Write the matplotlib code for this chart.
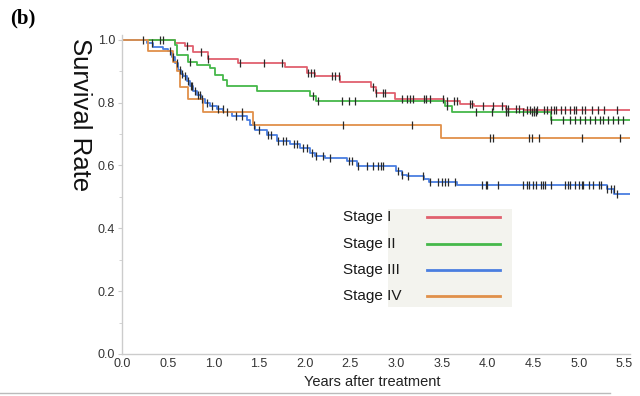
import numpy as np
import matplotlib
matplotlib.use("Agg")
import matplotlib.pyplot as plt
from matplotlib.lines import Line2D
from matplotlib.patches import Rectangle

plt.rcParams["font.family"] = ["Liberation Sans", "DejaVu Sans"]

FOLLOW_UP_END = 5.56

# step times (years) and survival after each drop
stage1_t = [0.0, 0.58, 0.69, 0.78, 0.94, 1.27, 1.78, 2.02, 2.11, 2.39, 2.72, 2.78, 2.99, 3.52, 3.70, 3.85, 4.20, 4.40]
stage1_s = [1.0, 0.99, 0.98, 0.96, 0.94, 0.927, 0.913, 0.895, 0.886, 0.866, 0.85, 0.83, 0.81, 0.804, 0.797, 0.788, 0.781, 0.775]

stage2_t = [0.0, 0.58, 0.60, 0.72, 0.82, 0.96, 1.02, 1.10, 1.15, 1.48, 2.06, 2.12, 3.54, 3.61, 4.69]
stage2_s = [1.0, 0.984, 0.952, 0.93, 0.92, 0.91, 0.889, 0.873, 0.853, 0.838, 0.82, 0.805, 0.788, 0.769, 0.746]

stage3_t = [0.0, 0.27, 0.34, 0.45, 0.50, 0.55, 0.58, 0.61, 0.65, 0.67, 0.71, 0.74, 0.78, 0.82, 0.86, 0.91,
            0.96, 1.04, 1.11, 1.20, 1.37, 1.40, 1.46, 1.59, 1.70, 1.84, 1.95, 2.06, 2.11, 2.22, 2.46, 2.57,
            3.00, 3.07, 3.12, 3.30, 3.36, 3.67, 5.31, 5.39]
stage3_s = [1.0, 0.99, 0.978, 0.97, 0.963, 0.945, 0.925, 0.905, 0.89, 0.883, 0.868, 0.852, 0.836, 0.825, 0.81, 0.80,
            0.788, 0.778, 0.77, 0.757, 0.746, 0.73, 0.714, 0.698, 0.677, 0.667, 0.656, 0.64, 0.63, 0.625, 0.614, 0.598,
            0.582, 0.571, 0.565, 0.556, 0.547, 0.537, 0.524, 0.508]

stage4_t = [0.0, 0.29, 0.56, 0.60, 0.64, 0.72, 0.89, 1.43, 3.49]
stage4_s = [1.0, 0.963, 0.93, 0.90, 0.85, 0.81, 0.77, 0.73, 0.686]

# censoring times
stage1_c = [0.23, 0.45, 0.71, 0.87, 0.94, 1.29, 1.55, 1.75, 2.04, 2.07, 2.10, 2.30, 2.33, 2.37, 2.75, 2.78,
            2.86, 2.88, 3.07, 3.12, 3.15, 3.18, 3.30, 3.33, 3.37, 3.51, 3.56, 3.63, 3.67, 3.81, 3.83, 3.95,
            4.06, 4.16, 4.20, 4.22, 4.31, 4.34, 4.43, 4.47, 4.51, 4.54, 4.62, 4.65, 4.69, 4.73, 4.75, 4.80,
            4.85, 4.90, 4.95, 4.97, 5.03, 5.07, 5.14, 5.21, 5.28, 5.42]
stage2_c = [0.42, 0.74, 2.09, 2.15, 2.41, 2.48, 2.55, 3.56, 3.87, 4.05, 4.20, 4.22, 4.39, 4.49, 4.51, 4.53,
            4.69, 4.83, 4.90, 4.96, 5.01, 5.07, 5.12, 5.18, 5.23, 5.26, 5.32, 5.37, 5.43, 5.48]
stage3_c = [0.33, 0.52, 0.56, 0.60, 0.63, 0.66, 0.69, 0.72, 0.75, 0.77, 0.80, 0.83, 0.85, 0.88, 0.93, 0.99,
            1.05, 1.10, 1.15, 1.25, 1.31, 1.45, 1.50, 1.60, 1.63, 1.71, 1.76, 1.80, 1.88, 1.92, 1.98, 2.03,
            2.08, 2.12, 2.20, 2.28, 2.48, 2.52, 2.58, 2.68, 2.75, 2.80, 2.84, 2.86, 3.02, 3.07, 3.13, 3.29,
            3.37, 3.46, 3.50, 3.54, 3.57, 3.65, 3.94, 3.98, 4.00, 4.11, 4.39, 4.43, 4.46, 4.50, 4.53, 4.59,
            4.61, 4.63, 4.70, 4.85, 4.88, 4.90, 4.96, 5.00, 5.03, 5.05, 5.11, 5.15, 5.22, 5.24, 5.31, 5.35,
            5.38, 5.42]
stage4_c = [1.31, 2.42, 3.17, 4.03, 4.06, 4.45, 4.49, 4.56, 5.04, 5.45]

labels = ["Stage I", "Stage II", "Stage III", "Stage IV"]
colors = ["#e0606e", "#45b84a", "#4a7ee0", "#e0904a"]

x_ticks = np.arange(0, 5.51, 0.5)
y_ticks = np.arange(0, 1.01, 0.2)

series = [(stage1_t, stage1_s, stage1_c), (stage2_t, stage2_s, stage2_c),
          (stage3_t, stage3_s, stage3_c), (stage4_t, stage4_s, stage4_c)]

fig = plt.figure(figsize=(6.4, 3.96), dpi=100)
ax = fig.add_axes([122 / 640, 1 - 354 / 396, 508 / 640, 319 / 396])

for (t, s, c), color in zip(series, colors):
    tt = np.append(t, FOLLOW_UP_END)
    ss = np.append(s, s[-1])
    ax.step(tt, ss, where="post", color=color, lw=1.3, zorder=2)
    idx = np.searchsorted(t, c, side="right") - 1
    ax.plot(c, np.array(s)[idx], ls="none", marker="|", ms=5.5, mew=0.9, color="#2a2a2a", zorder=3)

ax.set_xlim(0, FOLLOW_UP_END)
ax.set_ylim(0, 1.015)
ax.set_xticks(x_ticks)
ax.set_xticklabels([f"{v:.1f}" for v in x_ticks])
ax.set_yticks(y_ticks)
ax.set_yticklabels([f"{v:.1f}" for v in y_ticks])
ax.set_yticks(np.arange(0.1, 1.0, 0.2), minor=True)
ax.tick_params(axis="both", labelsize=9, colors="#cccccc", labelcolor="#333333", length=3, width=0.8, pad=2)
ax.tick_params(axis="x", length=0, pad=3)
ax.tick_params(axis="y", which="minor", length=2, colors="#cccccc")
for side in ["top", "right"]:
    ax.spines[side].set_visible(False)
for side in ["left", "bottom"]:
    ax.spines[side].set_color("#cccccc")
    ax.spines[side].set_linewidth(1.0)

fig.text(372 / 640, 1 - 382 / 396, "Years after treatment", fontsize=10.5, color="#222222",
         ha="center", va="center")
fig.text(80 / 640, 1 - 115 / 396, "Survival Rate", rotation=-90, fontsize=18.5,
         ha="center", va="center", color="#111111")
fig.text(10 / 640, 1 - 18 / 396, "(b)", fontsize=15, fontweight="bold",
         family="Liberation Serif", ha="left", va="center")

# legend
ax.add_patch(Rectangle((0.524, 0.147), 0.244, 0.306, transform=ax.transAxes,
                       facecolor="#f3f3ee", edgecolor="none", zorder=1))
for i, (label, color) in enumerate(zip(labels, colors)):
    y = 0.428 - i * 0.0825
    ax.text(0.435, y, label, transform=ax.transAxes, fontsize=11, color="#1a1a1a",
            ha="left", va="center", zorder=4)
    ax.add_line(Line2D([0.600, 0.744], [y, y], transform=ax.transAxes, color=color, lw=2, zorder=4))

fig.add_artist(Line2D([0, 610 / 640], [1 - 393 / 396] * 2, color="#bbbbbb", lw=1))

fig.savefig("out.png", dpi=100)
